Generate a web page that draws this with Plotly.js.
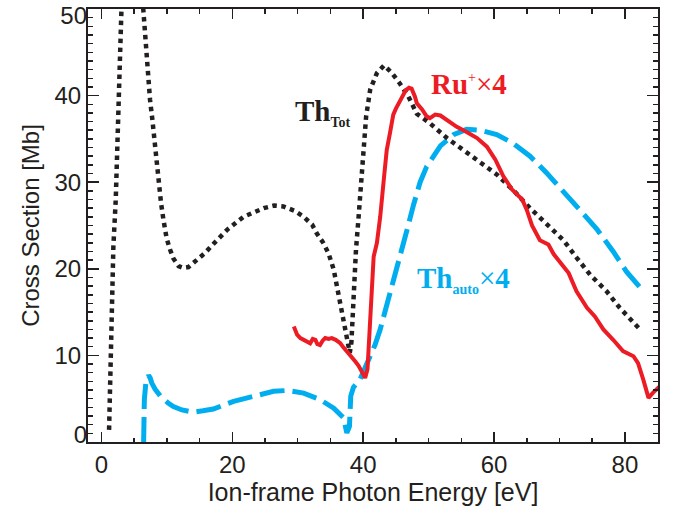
<!DOCTYPE html>
<html>
<head>
<meta charset="utf-8">
<script src="https://cdn.plot.ly/plotly-3.0.1.min.js"></script>
<style>
html,body{margin:0;padding:0;background:#fff;}
#chart{width:673px;height:511px;}
</style>
</head>
<body>
<div id="chart"></div>
<script>
// Th_Tot (total theory), dotted black
const thTotX = [1.17,1.33,1.58,1.83,2.19,2.49,2.7,2.9,3.3,4.2,5.3,6.0,6.41,6.67,6.92,7.18,7.43,7.79,8.09,8.35,8.7,9.11,9.47,9.97,10.5,11.0,11.8,12.5,13.3,14.6,15.8,16.9,19.2,21.7,24.8,26.4,27.8,29.5,30.9,32.2,32.9,33.9,34.7,35.5,36.2,36.75,37.25,37.75,37.95,38.2,38.4,38.6,38.9,39.3,39.65,40.05,40.45,41.07,42.1,43.2,44.4,45.6,46.9,48.2,50.2,52.8,55.3,57.9,60.4,62.9,65.5,68.0,70.6,72.6,74.7,77.2,79.2,82.3];
const thTotY = [1.4,6.8,16.4,22.6,28.0,35.7,43.3,49.9,56,62,60,54,49.7,47.2,44.9,42.2,39.5,37.2,34.9,32.2,29.9,27.6,25.7,23.5,22.2,21.2,20.3,20.1,20.2,21.0,21.8,22.7,24.5,26.0,27.0,27.3,27.2,26.7,26.0,25.1,24.1,23.0,21.8,19.9,17.2,14.9,13.0,10.7,10.3,11.5,15.3,18.4,22.2,26.0,29.9,33.7,37.6,40.7,42.6,43.5,42.6,41.4,39.9,37.9,36.8,35.1,33.7,32.4,30.9,29.1,27.0,25.2,23.3,21.3,19.3,17.4,15.5,13.0];

// Ru+ x4 (measurement), solid red
const ruX = [29.4,29.9,30.4,30.9,31.4,31.9,32.3,32.7,33.0,33.4,33.8,34.2,34.7,35.2,35.8,36.5,37.0,37.5,38.2,38.8,39.3,39.8,40.3,40.66,40.9,41.07,41.3,41.6,42.1,42.6,43.2,43.6,44.1,44.6,45.0,45.4,45.9,46.5,47.0,47.4,47.9,48.2,49.0,49.7,50.2,51.0,51.8,52.8,54.3,55.8,57.4,58.9,60.2,61.4,62.7,63.5,64.3,65.0,65.8,67.0,68.3,69.1,70.1,71.4,72.6,74.2,75.4,76.7,78.2,79.7,81.3,82.0,82.8,83.6,84.3,85.3];
const ruY = [13.35,12.4,12.0,11.8,11.5,11.4,11.9,11.8,11.3,11.2,11.7,12.0,11.9,12.0,11.8,11.4,10.9,10.5,9.9,9.3,8.8,8.2,7.4,8.4,12.0,14.5,18.5,21.4,23.0,26.0,30.7,33.7,35.7,37.8,38.5,39.1,39.9,40.6,40.9,40.8,39.9,39.1,38.4,37.6,37.4,37.8,37.7,37.2,36.4,35.8,35.1,34.1,32.6,30.7,29.2,28.6,28.0,26.8,25.0,23.3,22.8,21.7,20.8,19.5,17.4,15.5,14.5,13.0,11.8,10.5,9.9,9.1,7.2,5.1,5.7,6.4];

// Th_auto x4 (autoionization theory), dashed blue
const thAutoX = [6.45,6.56,6.8,7.2,7.45,7.7,8.2,9.0,10.2,11.0,12.3,14.1,15.5,17.1,20.2,23.3,26.3,28.35,30.9,33.4,35.5,37.0,37.5,37.9,38.1,38.5,39.5,40.3,40.8,41.8,42.6,43.6,44.6,45.6,46.7,47.7,48.7,49.7,50.8,51.8,53.8,55.8,57.9,60.4,62.9,65.5,68.0,70.6,73.1,75.7,78.2,80.3,82.6];
const thAutoY = [0.0,4.9,6.9,7.7,7.4,6.8,6.1,5.3,4.5,4.1,3.7,3.45,3.6,3.8,4.7,5.35,5.85,5.95,5.65,4.9,3.9,2.8,1.05,1.8,5.3,6.3,7.2,8.6,9.4,11.2,13.0,15.7,18.4,21.2,24.5,27.4,30.0,31.8,33.2,34.2,35.5,36.1,36.0,35.5,34.5,33.0,31.1,28.9,26.8,24.6,22.0,19.6,17.6];

const xTickVals = [0,20,40,60,80];
const yTickVals = [0,10,20,30,40,50];
const yTickText = ['', '10', '20', '30', '40', ''];   // end labels drawn by axes y3/y4 below
const yTopLabel = ['50'];
const yBottomLabel = ['0'];

const BLACK = '#231F20', RED = '#ED1C24', BLUE = '#00AEEF';
const SANS = 'Liberation Sans, Arial, sans-serif';
const SERIF = 'Liberation Serif, Times New Roman, serif';

const xRange = [-2.05, 85.05];
const yRange = [0, 50];

const traces = [
  {x: thAutoX, y: thAutoY, mode: 'lines', name: 'Th_auto x4',
   line: {color: BLUE, width: 5, dash: '25px,8px', shape: 'linear'}},
  {x: thTotX, y: thTotY, mode: 'lines', name: 'Th_Tot',
   line: {color: BLACK, width: 4.5, dash: '4.5px,4.5px', shape: 'linear'}},
  {x: ruX, y: ruY, mode: 'lines', name: 'Ru+ x4',
   line: {color: RED, width: 4, shape: 'linear'}},
  // empty helper traces so the extra tick axes are drawn
  {x: [], y: [], xaxis: 'x2', yaxis: 'y2', mode: 'lines', hoverinfo: 'skip', showlegend: false},
  {x: [], y: [], xaxis: 'x', yaxis: 'y3', mode: 'lines', hoverinfo: 'skip', showlegend: false},
  {x: [], y: [], xaxis: 'x', yaxis: 'y4', mode: 'lines', hoverinfo: 'skip', showlegend: false}
];

const axisCommon = {
  showgrid: false, zeroline: false, showline: true, linecolor: BLACK, linewidth: 2,
  ticks: 'inside', tickcolor: BLACK, tickwidth: 1.5, ticklabeloverflow: 'allow',
  tickfont: {family: SANS, size: 24, color: BLACK},
};
const labelOnly = {
  showgrid: false, zeroline: false, showline: false, ticks: 'inside', ticklen: 11,
  tickcolor: BLACK, tickwidth: 1.5, ticklabeloverflow: 'allow',
  tickfont: {family: SANS, size: 24, color: BLACK}, overlaying: 'y', side: 'left', anchor: 'x',
  range: yRange, tickmode: 'array'
};

const layout = {
  width: 673, height: 511,
  margin: {l: 88, r: 15, t: 9, b: 69},
  paper_bgcolor: '#fff', plot_bgcolor: '#fff',
  showlegend: false,
  xaxis: Object.assign({}, axisCommon, {
    range: xRange, tickvals: xTickVals, ticklen: 10, mirror: true,
    minor: {dtick: 5, tick0: 0, ticks: 'inside', ticklen: 4.5, tickcolor: BLACK, tickwidth: 1.5},
    title: {text: 'Ion-frame Photon Energy [eV]', font: {family: SANS, size: 25, color: BLACK}, standoff: 6}
  }),
  yaxis: Object.assign({}, axisCommon, {
    range: yRange, tickvals: yTickVals, ticktext: yTickText, ticklen: 11, mirror: true,
    minor: {dtick: 1, tick0: 0, ticks: 'inside', ticklen: 5, tickcolor: BLACK, tickwidth: 1.5},
    title: {text: 'Cross Section [Mb]', font: {family: SANS, size: 24, color: BLACK}, standoff: 8}
  }),
  // mirrored ticks on top and right
  xaxis2: Object.assign({}, axisCommon, {
    overlaying: 'x', side: 'top', anchor: 'y2', range: xRange, tickvals: xTickVals, ticklen: 10,
    showticklabels: false,
    minor: {dtick: 5, tick0: 0, ticks: 'inside', ticklen: 4.5, tickcolor: BLACK, tickwidth: 1.5}
  }),
  yaxis2: Object.assign({}, axisCommon, {
    overlaying: 'y', side: 'right', anchor: 'x2', range: yRange, tickvals: yTickVals, ticklen: 11,
    showticklabels: false,
    minor: {dtick: 1, tick0: 0, ticks: 'inside', ticklen: 5, tickcolor: BLACK, tickwidth: 1.5}
  }),
  // end labels of the y axis sit just inside the frame, as in the original
  yaxis3: Object.assign({}, labelOnly, {
    tickvals: [50], ticktext: yTopLabel, ticklabelshift: 7
  }),
  yaxis4: Object.assign({}, labelOnly, {
    tickvals: [0], ticktext: yBottomLabel, ticklabelshift: -7
  }),
  annotations: [
    {x: 29.2, y: 38.0, xref: 'x', yref: 'y', xanchor: 'left', yanchor: 'middle', showarrow: false,
     text: '<b>Th</b><sub><b><span style="font-size:14px">Tot</span></b></sub>',
     font: {family: SERIF, size: 29, color: BLACK}},
    {x: 50.0, y: 41.3, xref: 'x', yref: 'y', xanchor: 'left', yanchor: 'middle', showarrow: false,
     text: '<b>Ru</b><sup><span style="font-size:14px">+</span></sup>×<b>4</b>',
     font: {family: SERIF, size: 29, color: RED}},
    {x: 47.9, y: 18.8, xref: 'x', yref: 'y', xanchor: 'left', yanchor: 'middle', showarrow: false,
     text: '<b>Th</b><sub><b><span style="font-size:14px">auto</span></b></sub>×<b>4</b>',
     font: {family: SERIF, size: 29, color: BLUE}}
  ]
};

Plotly.newPlot('chart', traces, layout, {staticPlot: true, displayModeBar: false});
</script>
</body>
</html>
